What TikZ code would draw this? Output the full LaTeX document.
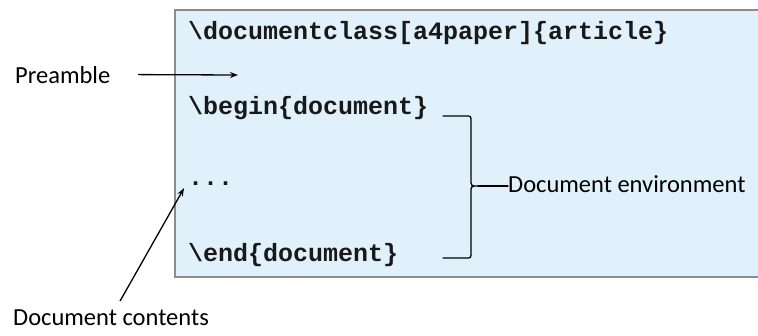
\documentclass[tikz,border=0pt]{standalone}
\usepackage{fontspec}
\setmainfont{Carlito}
\newfontfamily\codefont{Liberation Mono}
\usetikzlibrary{arrows.meta,calc}

\definecolor{pagefill}{RGB}{225,241,252}
\definecolor{pageline}{RGB}{140,140,140}

\begin{document}
\begin{tikzpicture}[x=1pt,y=-1pt,
    code/.style={anchor=base west,inner sep=0pt,font=\codefont\bfseries\fontsize{25}{30}\selectfont,text=black!90},
    label/.style={anchor=base west,inner sep=0pt,font=\fontsize{24.5}{29}\selectfont},
    pointer/.style={line width=1.3pt,-{Stealth[length=8pt,width=6pt]}},
    bracket/.style={line width=1.3pt,line cap=round}]
    \useasboundingbox (0,0) rectangle (758,335);
    % the page
    \fill[pagefill] (175,10) rectangle (758,277);
    \draw[pageline,line width=1.5pt] (758,10) -- (175,10) -- (175,277) -- (758,277);
    \node[code] (docclass) at (188,39) {\textbackslash documentclass[a4paper]\{article\}};
    \node[code] (begin) at (188,114) {\textbackslash begin\{document\}};
    \node[code] (dots) at (188,185) {...};
    \node[code] (end) at (188,261) {\textbackslash end\{document\}};
    % labels
    \node[label] (preamble) at (15,83) {Preamble};
    \node[label] (env) at (508,192) {Document environment};
    \node[label] (contents) at (13,325) {Document contents};
    \coordinate (pretip) at (238,75);
    \draw[pointer] (preamble.east -| 138,0) -- (pretip);
    \draw[pointer] ([xshift=9pt,yshift=8pt]contents.north) -- ([shift={(-4pt,-3pt)}]dots.south west);
    % brace round the environment
    \coordinate (armtop) at (443,116);
    \coordinate (armbot) at (443,258);
    \coordinate (tip) at (478,186);
    \draw[bracket] (armtop) -- (466,116) .. controls (471,116) .. (471,122) -- (471,179)
        .. controls (471,186) .. (tip) .. controls (471,186) .. (471,193) -- (471,252)
        .. controls (471,258) .. (466,258) -- (armbot);
    \draw[bracket] (tip) -- (tip -| env.west);
\end{tikzpicture}
\end{document}
